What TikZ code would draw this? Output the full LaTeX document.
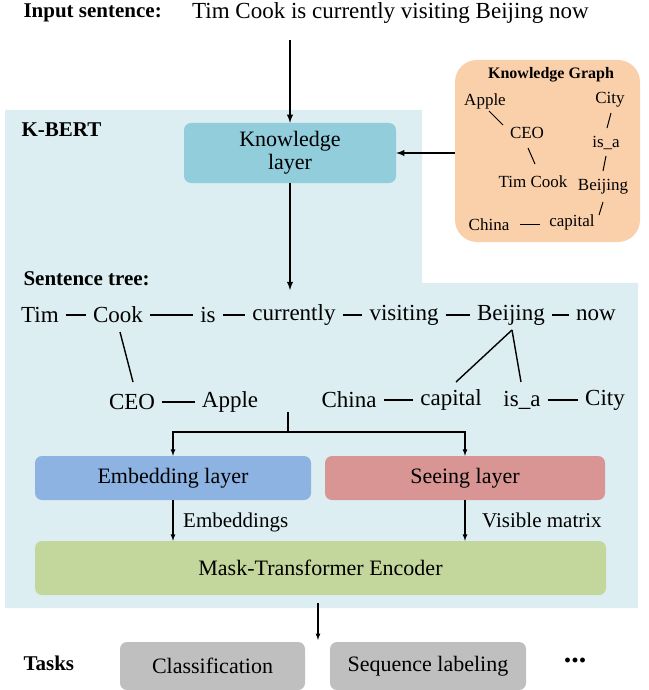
\documentclass[tikz,border=0pt]{standalone}
\usepackage{fontspec}
\setmainfont{Liberation Serif}
\newfontfamily\tms{Liberation Serif}
\begin{document}
\begin{tikzpicture}[x=1pt,y=-1pt,font=\tms,
  w/.style={font=\tms\fontsize{23}{25}\selectfont,inner sep=1pt},
  kg/.style={font=\tms\fontsize{17}{19}\selectfont,inner sep=1pt},
  lbl/.style={font=\tms\bfseries\fontsize{21}{23}\selectfont},
  box/.style={rounded corners=7pt,font=\tms\fontsize{22}{25}\selectfont},
  ln/.style={line width=1.4pt},
  arr/.style={line width=1.8pt,-latex},
  sarr/.style={line width=1.2pt,-latex}]
\useasboundingbox (0,0) rectangle (648,690);
\fill[fill={rgb,255:red,221;green,238;blue,243}] (5,110) -- (422,110) -- (422,283) -- (638,283) -- (638,608) -- (5,608) -- cycle;
\node[lbl,anchor=west] (inlbl) at (20,13) {Input sentence:};
\node[w,anchor=west] (insent) at (191,13) {Tim Cook is currently visiting Beijing now};
\node[lbl,anchor=west] (kbert) at (18,130) {K-BERT};
% KG
\node[box,fill={rgb,255:red,250;green,208;blue,170},minimum width=185pt,minimum height=182pt,rounded corners=22pt] (kgbox) at (547.5,151) {};
\node[kg,font=\tms\bfseries\fontsize{16}{18}\selectfont] (kgt) at (551,75) {Knowledge Graph};
\node[kg] (kapple) at (485,101) {Apple};
\node[kg] (kceo) at (527,133) {CEO};
\node[kg] (ktc) at (533,182) {Tim Cook};
\node[kg] (kcity) at (610,100) {City};
\node[kg] (kisa) at (606,143) {is\_a};
\node[kg] (kbj) at (603,187) {Beijing};
\node[kg] (kchina) at (489,225) {China};
\node[kg] (kcap) at (572,222) {capital};
\draw[line width=1pt] (489,111)--(503,125);
\draw[line width=1pt] (528,148)--(535,164);
\draw[line width=1pt] (611,113)--(607,128);
\draw[line width=1pt] (606,156)--(603,171);
\draw[line width=1pt] (603,202)--(599,215);
\draw[line width=1pt] (520,224)--(540,224);
% knowledge layer
\node[box,fill={rgb,255:red,146;green,205;blue,220},minimum width=212pt,minimum height=60pt,align=center] (kl) at (290,153) {Knowledge\\[-2pt]layer};
\draw[arr] (290,40) -- (kl.north);
\draw[arr] (kgbox.west |- kl.east) -- (kl.east);
% sentence tree
\node[lbl,anchor=west] (st) at (20,279) {Sentence tree:};
\node[w] (tim) at (40,315) {Tim};
\node[w] (cook) at (118,315) {Cook};
\node[w] (is) at (208,315) {is};
\node[w] (cur) at (294,315) {currently};
\node[w] (vis) at (404,315) {visiting};
\node[w] (bj) at (511,315) {Beijing};
\node[w] (now) at (596,315) {now};
\node[w] (ceo) at (132,402) {CEO};
\node[w] (apple) at (230,402) {Apple};
\node[w] (china) at (349,400) {China};
\node[w] (cap) at (451,400) {capital};
\node[w] (isa) at (522,400) {is\_a};
\node[w] (city) at (605,400) {City};
\draw[arr] (kl.south) -- (290,290);
\foreach \a/\b in {tim/cook,cook/is,is/cur,cur/vis,vis/bj,bj/now,ceo/apple,china/cap,isa/city}
  \draw[ln] ([xshift=6pt]\a.east) -- ([xshift=-6pt]\b.west);
\draw[ln] (120,332) -- (133,382);
\draw[ln] (512,330) -- (456,382);
\draw[ln] (512,330) -- (521,382);
% layers
\node[box,fill={rgb,255:red,141;green,179;blue,226},minimum width=276pt,minimum height=44pt] (emb) at (173,478) {Embedding layer};
\node[box,fill={rgb,255:red,217;green,149;blue,148},minimum width=280pt,minimum height=44pt] (see) at (465,478) {Seeing layer};
\coordinate (br) at (288,432);
\draw[line width=1.2pt] (288,412) -- (br);
\draw[sarr] (br) -| (emb.north);
\draw[sarr] (br) -| (see.north);
\node[box,fill={rgb,255:red,195;green,214;blue,155},minimum width=571pt,minimum height=54pt] (mask) at (320.5,568) {Mask-Transformer Encoder};
\draw[sarr] (emb.south) -- (emb.south |- mask.north);
\draw[sarr] (see.south) -- (see.south |- mask.north);
\node[w,font=\tms\fontsize{21}{23}\selectfont,anchor=west] (embl) at (182,522) {Embeddings};
\node[w,font=\tms\fontsize{21}{23}\selectfont,anchor=west] (visl) at (481,520) {Visible matrix};
% tasks
\node[lbl,anchor=west] (tasks) at (20,663) {Tasks};
\node[box,fill={rgb,255:red,191;green,191;blue,191},minimum width=185pt,minimum height=48pt] (cls) at (212.5,666) {Classification};
\node[box,fill={rgb,255:red,191;green,191;blue,191},minimum width=196pt,minimum height=48pt] (seq) at (428,666) {Sequence labeling};
\node[lbl,font=\tms\bfseries\fontsize{30}{30}\selectfont] (dots) at (575,660) {...};
\coordinate (tt) at (318,640);
\draw[sarr] (318,603) -- (tt);
\end{tikzpicture}
\end{document}
